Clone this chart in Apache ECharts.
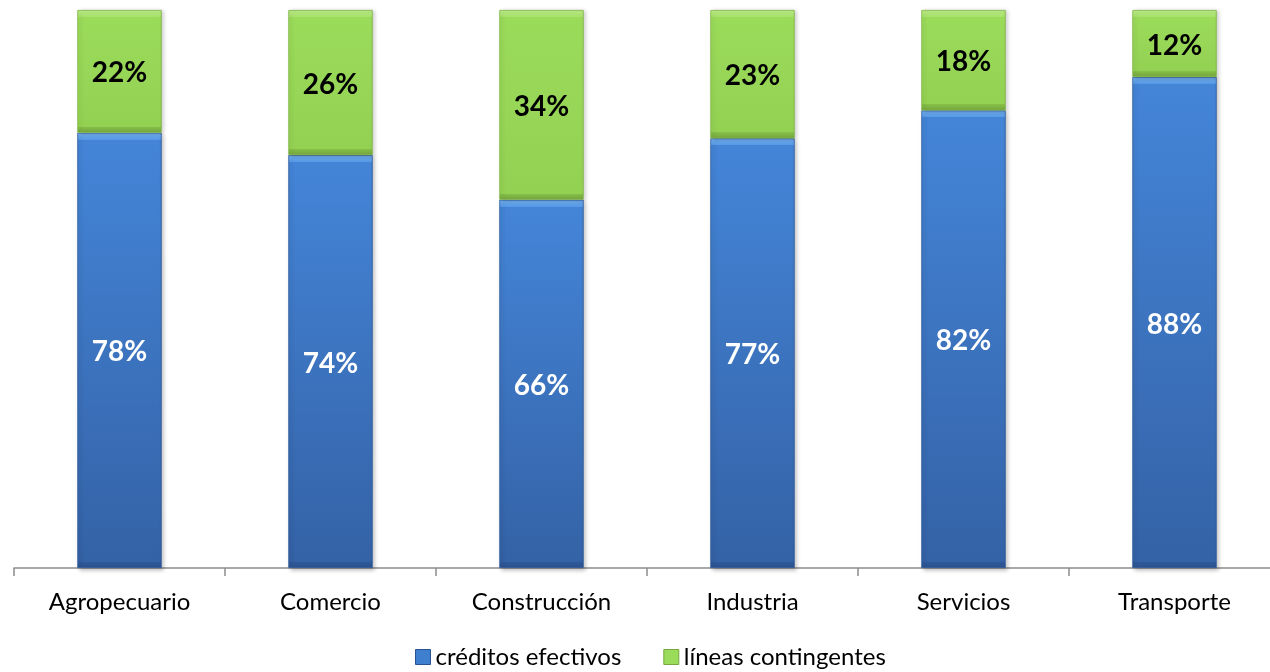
<!DOCTYPE html>
<html>
<head>
<meta charset="utf-8">
<script src="https://cdn.jsdelivr.net/npm/echarts@6/dist/echarts.min.js"></script>
<style>
  html, body { margin: 0; padding: 0; background: #ffffff; }
  #chart { width: 1270px; height: 672px; }
</style>
</head>
<body>
<div id="chart"></div>
<script>
// Sectors and share of each financing type (percent)
const categories = ['Agropecuario', 'Comercio', 'Construcción', 'Industria', 'Servicios', 'Transporte'];
const creditosEfectivos = [78, 74, 66, 77, 82, 88];
const lineasContingentes = [22, 26, 34, 23, 18, 12];
const seriesNames = ['créditos efectivos', 'líneas contingentes'];

const FONT = 'Lato, "Open Sans", sans-serif';
const PLOT_H = 558; // pixel height of the 0–100 value range

// Vertical gradient with a light bevel strip at the top and a dark one at the bottom
function bevelFill(value, c) {
  const h = Math.max(value * PLOT_H / 100, 1);
  const t = 7 / h, b = 6 / h;
  return new echarts.graphic.LinearGradient(0, 0, 0, 1, [
    { offset: 0, color: c.hi },
    { offset: t, color: c.hi2 },
    { offset: t + 0.0001, color: c.top },
    { offset: 1 - b - 0.0001, color: c.bottom },
    { offset: 1 - b, color: c.lo },
    { offset: 1, color: c.lo2 }
  ]);
}

const blue = { hi: '#78b8fa', hi2: '#5699e6', top: '#4485d8', bottom: '#3462a6', lo: '#30599a', lo2: '#2b5290' };
const green = { hi: '#bdee85', hi2: '#a8e16c', top: '#9bdb5a', bottom: '#93d152', lo: '#86bf48', lo2: '#76a83e' };

function buildData(values, palette) {
  return values.map(v => ({
    value: v,
    itemStyle: { color: bevelFill(v, palette) }
  }));
}

const chart = echarts.init(document.getElementById('chart'), null, { renderer: 'canvas' });

chart.setOption({
  animation: false,
  backgroundColor: '#ffffff',
  grid: {
    left: 14, top: 10, width: 1266, height: PLOT_H,
    containLabel: false, outerBoundsMode: 'none'
  },
  legend: {
    bottom: -2,
    left: 410,
    itemWidth: 15,
    itemHeight: 15,
    itemGap: 42,
    icon: 'rect',
    textStyle: { fontFamily: FONT, fontSize: 24, color: '#000000', padding: [0, 0, 0, 0] },
    data: [
      { name: seriesNames[0], itemStyle: { color: '#3f7fd0', borderColor: '#2b5290', borderWidth: 1 } },
      { name: seriesNames[1], itemStyle: { color: '#9bdb5a', borderColor: '#76a83e', borderWidth: 1 } }
    ]
  },
  xAxis: {
    type: 'category',
    data: categories,
    axisLine: { show: true, lineStyle: { color: '#8c8c8c', width: 1.5 } },
    axisTick: { show: true, length: 8, lineStyle: { color: '#8c8c8c', width: 1.5 } },
    axisLabel: { fontFamily: FONT, fontSize: 24, color: '#000000', margin: 22 }
  },
  yAxis: {
    type: 'value',
    min: 0,
    max: 100,
    show: false,
    splitLine: { show: false }
  },
  series: [
    {
      name: seriesNames[0],
      type: 'bar',
      stack: 'total',
      barWidth: '40%',
      data: buildData(creditosEfectivos, blue),
      itemStyle: {
        borderColor: '#2f5c9c',
        borderWidth: 0.8,
        shadowColor: 'rgba(0,0,0,0.25)',
        shadowBlur: 4,
        shadowOffsetX: 2,
        shadowOffsetY: 2
      },
      label: {
        show: true,
        position: 'inside',
        offset: [0, 2],
        formatter: '{c}%',
        fontFamily: FONT,
        fontWeight: 'bold',
        fontSize: 28,
        color: '#ffffff'
      }
    },
    {
      name: seriesNames[1],
      type: 'bar',
      stack: 'total',
      barWidth: '40%',
      data: buildData(lineasContingentes, green),
      itemStyle: {
        borderColor: '#7fb546',
        borderWidth: 0.8,
        shadowColor: 'rgba(0,0,0,0.2)',
        shadowBlur: 4,
        shadowOffsetX: 2,
        shadowOffsetY: 1
      },
      label: {
        show: true,
        position: 'inside',
        offset: [0, 2],
        formatter: '{c}%',
        fontFamily: FONT,
        fontWeight: 'bold',
        fontSize: 28,
        color: '#000000'
      }
    }
  ]
});
</script>
</body>
</html>
